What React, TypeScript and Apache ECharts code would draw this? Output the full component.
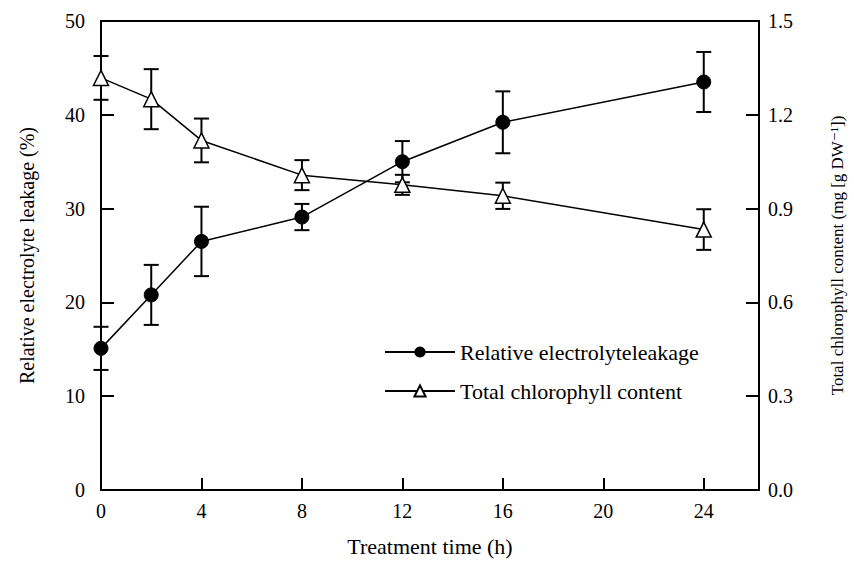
import React, { useEffect, useRef } from "react";
import * as echarts from "echarts";

const times = [0, 2, 4, 8, 12, 16, 24];
const leakage = [15.1, 20.8, 26.5, 29.1, 35.0, 39.2, 43.5];
const leakageErr = [2.3, 3.2, 3.7, 1.4, 2.2, 3.3, 3.2];
const chlorophyll = [1.318, 1.25, 1.118, 1.007, 0.976, 0.941, 0.833];
const chlorophyllErr = [0.07, 0.096, 0.07, 0.048, 0.032, 0.042, 0.065];
const xTicks = [0, 4, 8, 12, 16, 20, 24];
const leftTicks = [0, 10, 20, 30, 40, 50];
const rightTicks = [0.0, 0.3, 0.6, 0.9, 1.2, 1.5];

const FONT = "'Liberation Serif', 'Times New Roman', 'DejaVu Serif', serif";

function errorSeries(name: string, vals: number[], errs: number[], yAxisIndex: number) {
  return {
    type: "custom",
    name: name + "-err",
    yAxisIndex,
    z: 2,
    silent: true,
    data: times.map((t, i) => [t, vals[i] - errs[i], vals[i] + errs[i]]),
    renderItem: (params: any, api: any) => {
      const x = api.value(0);
      const lo = api.coord([x, api.value(1)]);
      const hi = api.coord([x, api.value(2)]);
      const hw = 7.5;
      const style = { stroke: "#000", lineWidth: 2 };
      return {
        type: "group",
        children: [
          { type: "line", shape: { x1: lo[0], y1: lo[1], x2: hi[0], y2: hi[1] }, style },
          { type: "line", shape: { x1: lo[0] - hw, y1: lo[1], x2: lo[0] + hw, y2: lo[1] }, style },
          { type: "line", shape: { x1: hi[0] - hw, y1: hi[1], x2: hi[0] + hw, y2: hi[1] }, style },
        ],
      };
    },
  };
}

export default function App() {
  const ref = useRef<HTMLDivElement>(null);
  useEffect(() => {
    if (!ref.current) return;
    const chart = echarts.init(ref.current, null, { renderer: "svg" });
    const axisLine = { show: true, lineStyle: { color: "#000", width: 2 } };
    const labelStyle = { color: "#000", fontFamily: FONT, fontSize: 20 };
    chart.setOption({
      animation: false,
      backgroundColor: "#fff",
      textStyle: { fontFamily: FONT },
      grid: {
        left: 101,
        right: 89,
        top: 21,
        bottom: 67,
        show: true,
        borderColor: "#000",
        borderWidth: 2,
        backgroundColor: "transparent",
      },
      legend: {
        orient: "vertical",
        left: 379,
        top: 336,
        padding: 5,
        itemWidth: 70,
        itemHeight: 14,
        itemGap: 17,
        textStyle: { color: "#000", fontFamily: FONT, fontSize: 22 },
        data: ["Relative electrolyteleakage", "Total chlorophyll content"],
      },
      xAxis: {
        type: "value",
        min: 0,
        max: 26.2,
        interval: 4,
        name: "Treatment time (h)",
        nameLocation: "middle",
        nameGap: 45,
        nameTextStyle: { color: "#000", fontFamily: FONT, fontSize: 22 },
        axisLine,
        axisTick: { show: true, inside: true, length: 12, lineStyle: { color: "#000", width: 2 } },
        axisLabel: {
          ...labelStyle,
          margin: 11,
          showMaxLabel: false,
          formatter: (v: number) => (xTicks.includes(v) ? String(v) : ""),
        },
        splitLine: { show: false },
      },
      yAxis: [
        {
          type: "value",
          min: leftTicks[0],
          max: leftTicks[leftTicks.length - 1],
          interval: 10,
          position: "left",
          name: "Relative electrolyte leakage (%)",
          nameLocation: "middle",
          nameGap: 64,
          nameTextStyle: { color: "#000", fontFamily: FONT, fontSize: 20 },
          axisLine,
          axisTick: { show: true, inside: true, length: 13, lineStyle: { color: "#000", width: 2 } },
          axisLabel: { ...labelStyle, margin: 16 },
          splitLine: { show: false },
        },
        {
          type: "value",
          min: rightTicks[0],
          max: rightTicks[rightTicks.length - 1],
          interval: 0.3,
          position: "right",
          name: "Total chlorophyll content (mg [g DW\u207B\u00B9])",
          nameLocation: "middle",
          nameGap: 70,
          nameRotate: 90,
          nameTextStyle: { color: "#000", fontFamily: FONT, fontSize: 17 },
          axisLine,
          axisTick: { show: true, inside: true, length: 13, lineStyle: { color: "#000", width: 2 } },
          axisLabel: { ...labelStyle, margin: 9, formatter: (v: number) => v.toFixed(1) },
          splitLine: { show: false },
        },
      ],
      series: [
        errorSeries("leak", leakage, leakageErr, 0),
        errorSeries("chl", chlorophyll, chlorophyllErr, 1),
        {
          type: "line",
          name: "Relative electrolyteleakage",
          yAxisIndex: 0,
          z: 5,
          data: times.map((t, i) => [t, leakage[i]]),
          symbol: "circle",
          symbolSize: 14,
          itemStyle: { color: "#000", borderColor: "#000" },
          lineStyle: { color: "#000", width: 1.5 },
        },
        {
          type: "line",
          name: "Total chlorophyll content",
          yAxisIndex: 1,
          z: 5,
          data: times.map((t, i) => [t, chlorophyll[i]]),
          symbol: "triangle",
          symbolSize: 15,
          itemStyle: { color: "#fff", borderColor: "#000", borderWidth: 1.5 },
          lineStyle: { color: "#000", width: 1.5 },
        },
      ],
    });
    return () => chart.dispose();
  }, []);
  return <div ref={ref} style={{ width: 854, height: 562, position: "absolute", left: 0, top: 0 }} />;
}
